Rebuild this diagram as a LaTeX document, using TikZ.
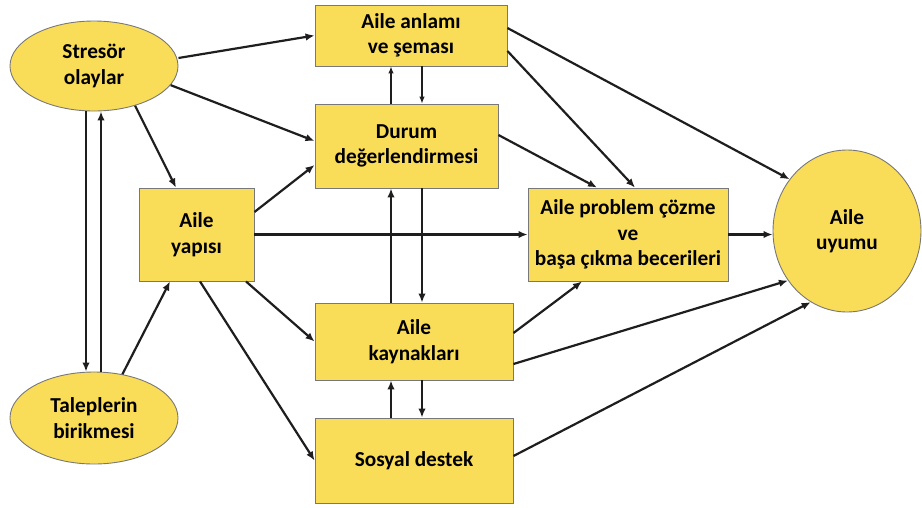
\documentclass[tikz,border=0pt]{standalone}
\usepackage{fontspec}
\setmainfont{Carlito}
\usetikzlibrary{shapes.geometric,arrows.meta}
\definecolor{boxfill}{RGB}{249,220,88}
\definecolor{boxline}{RGB}{120,120,120}
\definecolor{arrowcol}{RGB}{30,30,30}
\tikzset{
  base/.style={fill=boxfill, draw=boxline, line width=0.9pt, align=center,
    inner sep=0pt, font=\fontsize{21.3}{25.5}\selectfont\bfseries, text=black},
  block/.style={base, rectangle},
  oval/.style={base, ellipse},
  link/.style={draw=arrowcol, line width=2.2pt, -{Latex[length=9pt,width=7.5pt]}},
  thinlink/.style={draw=arrowcol, line width=1.1pt, -{Latex[length=7pt,width=5.5pt]}}
}
\begin{document}
\begin{tikzpicture}[x=1pt,y=-1pt]
\useasboundingbox (0,0) rectangle (922,507);

% ovals
\node[oval, minimum width=168pt, minimum height=90pt] (stresor) at (94,66) {Stresör\\olaylar};
\node[oval, minimum width=168pt, minimum height=92pt] (talep) at (94,418) {Taleplerin\\birikmesi};
\node[oval, minimum width=148pt, minimum height=162pt] (uyum) at (847,231) {Aile\\uyumu};

% boxes
\node[block, minimum width=192pt, minimum height=61pt] (anlam) at (411,35.5) {Aile anlamı\\ve şeması};
\node[block, minimum width=183pt, minimum height=84pt] (durum) at (406.5,146) {Durum\\değerlendirmesi};
\node[block, minimum width=115pt, minimum height=93pt] (yapi) at (196.5,234.5) {Aile\\yapısı};
\node[block, minimum width=200pt, minimum height=93pt] (problem) at (628,234.5) {Aile problem çözme\\ve\\başa çıkma becerileri};
\node[block, minimum width=198pt, minimum height=77pt] (kaynak) at (414,341.5) {Aile\\kaynakları};
\node[block, minimum width=198pt, minimum height=85pt] (sosyal) at (414,460.5) {Sosyal destek};

% stressor events
\draw[link] ([yshift=8pt]stresor.east) -- (anlam.west);
\draw[link] (stresor.-14) -- ([yshift=5pt]durum.west);
\draw[link] (stresor.-44) -- ([xshift=-20.5pt]yapi.north);
\draw[link] ([xshift=-8pt]stresor.south) -- ([xshift=-8pt]talep.north);
\draw[link] ([xshift=7pt]talep.north) -- ([xshift=7pt]stresor.south);

% pile-up of demands
\draw[link] (talep.57) -- ([xshift=-26.5pt]yapi.south);

% family structure
\draw[link] ([yshift=22.5pt]yapi.east) -- ([yshift=-19pt]durum.west);
\draw[link] (yapi.east) -- (problem.west);
\draw[link] ([xshift=49.5pt]yapi.south) -- (kaynak.west);
\draw[link] ([xshift=3.5pt]yapi.south) -- (sosyal.west);

% vertical pairs in the middle column
\draw[thinlink] ([xshift=-15.5pt]durum.north) -- ([xshift=-15.5pt]durum.north |- anlam.south);
\draw[thinlink] ([xshift=15.5pt]durum.north |- anlam.south) -- ([xshift=15.5pt]durum.north);
\draw[link] ([xshift=-23pt]kaynak.north) -- ([xshift=-23pt]kaynak.north |- durum.south);
\draw[link] ([xshift=8pt]kaynak.north |- durum.south) -- ([xshift=8pt]kaynak.north);
\draw[link] ([xshift=-23pt]sosyal.north) -- ([xshift=-23pt]kaynak.south);
\draw[link] ([xshift=8pt]kaynak.south) -- ([xshift=8pt]sosyal.north);

% towards coping and adaptation
\draw[link] ([yshift=7.5pt]anlam.east) -- (uyum.138);
\draw[link] ([yshift=-15.5pt]anlam.east) -- ([xshift=7pt]problem.north);
\draw[link] ([yshift=11pt]durum.east) -- ([xshift=-31pt]problem.north);
\draw[link] (problem.east) -- (problem.east -| uyum.west);
\draw[link] ([yshift=8.5pt]kaynak.east) -- ([xshift=-46pt]problem.south);
\draw[link] ([yshift=-22.5pt]kaynak.east) -- (uyum.220);
\draw[link] ([yshift=4.5pt]sosyal.east) -- (uyum.243);
\end{tikzpicture}
\end{document}
